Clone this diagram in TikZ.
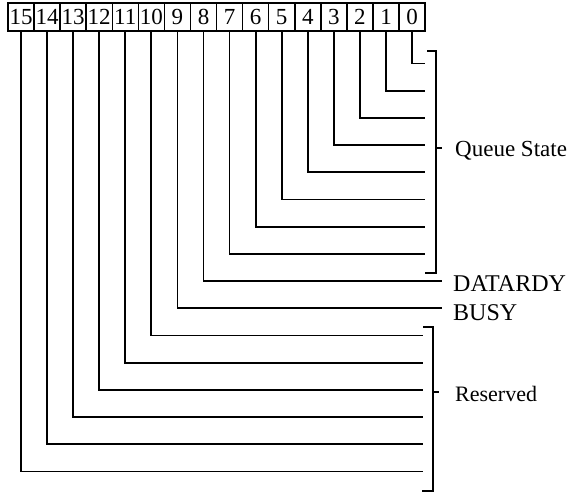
\documentclass[tikz,border=0pt]{standalone}
\usepackage{fontspec}
\setmainfont{Liberation Serif}
\begin{document}
\begin{tikzpicture}[x=1pt,y=-1pt,
  bitbox/.style={draw,line width=1.5pt,minimum width=26.07pt,minimum height=28pt,inner sep=0pt,font=\fontsize{23}{23}\selectfont},
  wire/.style={line width=1.8pt},
  lab/.style={anchor=base west,inner sep=0pt,font=\fontsize{23}{24}\selectfont}]
\useasboundingbox (0,0) rectangle (574,492);
% bit boxes
\foreach \b in {0,...,15}{
  \pgfmathsetmacro\xx{8+26.07*(15-\b)+13.035}
  \node[bitbox] (b\b) at (\xx,17) {\b};
}
% wires: queue state bits
\foreach \b in {0,...,7}{
  \pgfmathsetmacro\yy{63.5+27.2*\b}
  \coordinate (e\b) at (425,\yy);
  \draw[wire] (b\b.south) |- (e\b);
}
% DATARDY, BUSY
\foreach \b in {8,9}{
  \pgfmathsetmacro\yy{63.5+27.2*\b}
  \coordinate (e\b) at (442,\yy);
  \draw[wire] (b\b.south) |- (e\b);
}
% reserved bits
\foreach \b in {10,...,15}{
  \pgfmathsetmacro\yy{63.5+27.2*\b}
  \coordinate (e\b) at (423,\yy);
  \draw[wire] (b\b.south) |- (e\b);
}
% Queue State bracket
\coordinate (qt) at (427,51);
\coordinate (qb) at (425,273);
\coordinate (qm) at (436,148);
\coordinate (qmt) at (442,148);
\draw[wire] (qt) -| (436,273) -- (qb);
\draw[wire] (qm) -- (qmt);
% Reserved bracket
\coordinate (rt) at (423,327);
\coordinate (rb) at (422,491);
\coordinate (rm) at (433,392);
\coordinate (rmt) at (439,392);
\draw[wire] (rt) -| (433,491) -- (rb);
\draw[wire] (rm) -- (rmt);
% labels
\node[lab] (qs) at (455,157) {Queue State};
\node[lab,font=\fontsize{24}{25}\selectfont] (dr) at (453,292) {DATARDY};
\node[lab,font=\fontsize{24}{25}\selectfont] (bs) at (453,320) {BUSY};
\node[lab,font=\fontsize{22}{23}\selectfont] (rs) at (455,402) {Reserved};
\end{tikzpicture}
\end{document}
